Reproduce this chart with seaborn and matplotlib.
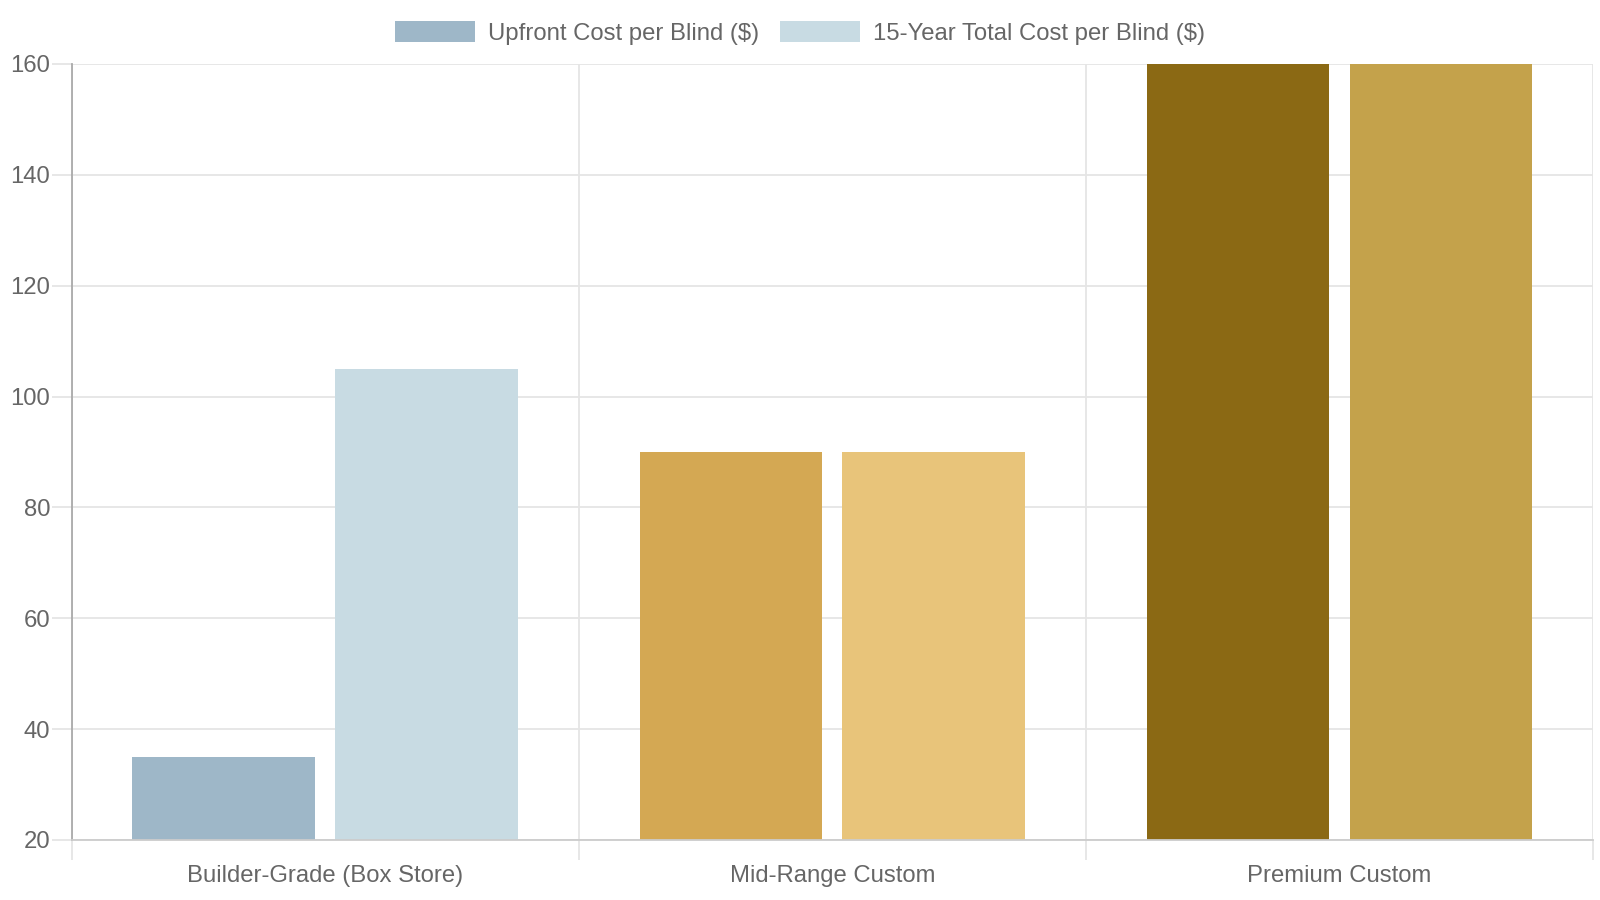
import matplotlib
matplotlib.use("Agg")
import matplotlib.pyplot as plt
import seaborn as sns
import pandas as pd
from matplotlib.patches import Patch

categories = ["Builder-Grade (Box Store)", "Mid-Range Custom", "Premium Custom"]
series = ["Upfront Cost per Blind ($)", "15-Year Total Cost per Blind ($)"]
upfront = [35, 90, 185]
total_15yr = [105, 90, 185]
y_ticks = [20, 40, 60, 80, 100, 120, 140, 160]

# colors per category: (upfront, 15-year)
bar_colors = [("#9eb7c8", "#c8dbe3"), ("#d4a853", "#e8c47a"), ("#8b6914", "#c4a24b")]

TEXT = "#666666"
GRID = "#e5e5e5"
FS = 17.2

sns.set_theme(style="white")
plt.rcParams["font.family"] = ["Liberation Sans", "DejaVu Sans"]

df = pd.DataFrame({
    "category": categories * 2,
    "series": [series[0]] * 3 + [series[1]] * 3,
    "value": upfront + total_15yr,
})

fig = plt.figure(figsize=(16, 9), dpi=100)
ax = fig.add_axes([71.5 / 1600, 1 - 840 / 900, (1593 - 71.5) / 1600, (840 - 64) / 900])

sns.barplot(data=df, x="category", y="value", hue="series", hue_order=series,
            order=categories, width=0.8, gap=0.1, legend=False, ax=ax,
            saturation=1, linewidth=0, errorbar=None)

for i, cont in enumerate(ax.containers):
    for j, bar in enumerate(cont):
        bar.set_facecolor(bar_colors[j][i])
        bar.set_edgecolor("none")

ax.set_ylim(20, 160)
ax.set_xlim(-0.5, len(categories) - 0.5)
ax.set_yticks(y_ticks)
ax.set_yticklabels([str(v) for v in y_ticks])
ax.set_xticks(range(len(categories)))
ax.set_xticklabels(categories)
ax.set_xticks([-0.5 + k for k in range(len(categories) + 1)], minor=True)
ax.set_xlabel("")
ax.set_ylabel("")

ax.grid(True, axis="y", color=GRID, linewidth=1.3, zorder=0)
ax.grid(True, axis="x", which="minor", color=GRID, linewidth=1.3, zorder=0)
ax.grid(False, axis="x", which="major")
ax.set_axisbelow(True)

ax.tick_params(axis="y", length=14.4, width=1.3, color=GRID, labelsize=FS,
               labelcolor=TEXT, pad=1, left=True)
ax.tick_params(axis="x", which="major", length=0, labelsize=FS, labelcolor=TEXT, pad=18)
ax.tick_params(axis="x", which="minor", length=14.4, width=1.3, color=GRID, bottom=True)

for s in ["top", "right"]:
    ax.spines[s].set_visible(False)
ax.spines["left"].set_color("#aaaaaa")
ax.spines["left"].set_linewidth(1.3)
ax.spines["bottom"].set_color("#cccccc")
ax.spines["bottom"].set_linewidth(1.3)

handles = [Patch(facecolor=bar_colors[0][0], edgecolor="none"),
           Patch(facecolor=bar_colors[0][1], edgecolor="none")]
leg = fig.legend(handles, series, loc="center", bbox_to_anchor=(0.5, 1 - 33 / 900),
                 ncol=2, frameon=False, fontsize=FS, handlelength=3.35,
                 handleheight=0.96, handletextpad=0.54, columnspacing=0.88,
                 borderaxespad=0, borderpad=0)
for t in leg.get_texts():
    t.set_color(TEXT)

fig.savefig("out.png", dpi=100)
